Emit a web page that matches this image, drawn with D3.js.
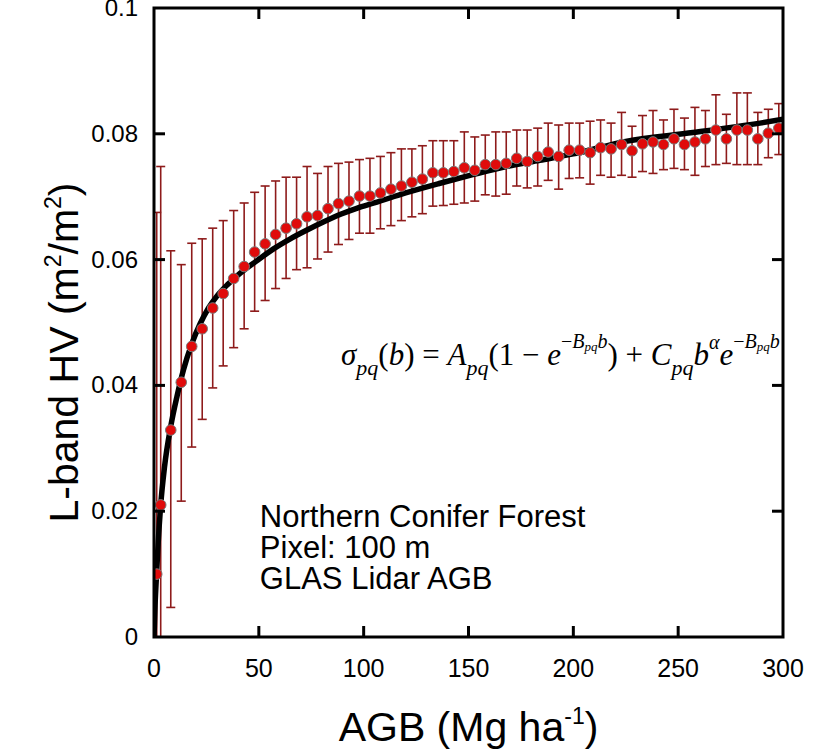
<!DOCTYPE html>
<html>
<head>
<meta charset="utf-8">
<script src="https://cdn.jsdelivr.net/npm/d3@7"></script>
<style>
  body { margin: 0; background: #fff; }
  svg { display: block; }
</style>
</head>
<body>
<div id="chart"></div>
<script>
// binned AGB (Mg/ha) and L-band HV mean with upper / lower error bar ends
var agb = [1.3, 3.2, 8, 13, 18, 23, 28, 33, 38, 43, 48, 53, 58, 63, 68, 73, 78, 83, 88, 93,
  98, 103, 108, 113, 118, 123, 128, 133, 138, 143, 148, 153, 158, 163, 168, 173, 178, 183, 188, 193,
  198, 203, 208, 213, 218, 223, 228, 233, 238, 243, 248, 253, 258, 263, 268, 273, 278, 283, 288, 293, 298];
var hvMean = [0.0100, 0.0210, 0.0329, 0.0405, 0.0462, 0.0490, 0.0523, 0.0546, 0.0570, 0.0589,
  0.0612, 0.0625, 0.0640, 0.0650, 0.0657, 0.0668, 0.0670, 0.0681, 0.0689, 0.0693,
  0.0701, 0.0701, 0.0706, 0.0712, 0.0717, 0.0723, 0.0728, 0.0738, 0.0738, 0.0740,
  0.0746, 0.0742, 0.0751, 0.0751, 0.0753, 0.0761, 0.0756, 0.0764, 0.0771, 0.0764,
  0.0774, 0.0774, 0.0770, 0.0778, 0.0776, 0.0783, 0.0773, 0.0784, 0.0787, 0.0783,
  0.0792, 0.0783, 0.0787, 0.0792, 0.0806, 0.0792, 0.0806, 0.0806, 0.0792, 0.0801, 0.0809];
var hvUpper = [0.0675, 0.0748, 0.0614, 0.0592, 0.0626, 0.0633, 0.0650, 0.0662, 0.0678, 0.0690,
  0.0707, 0.0717, 0.0725, 0.0731, 0.0731, 0.0748, 0.0737, 0.0748, 0.0753, 0.0755,
  0.0759, 0.0761, 0.0764, 0.0770, 0.0776, 0.0776, 0.0781, 0.0789, 0.0789, 0.0789,
  0.0803, 0.0795, 0.0798, 0.0803, 0.0803, 0.0806, 0.0806, 0.0809, 0.0817, 0.0814,
  0.0817, 0.0817, 0.0820, 0.0822, 0.0817, 0.0834, 0.0812, 0.0829, 0.0837, 0.0822,
  0.0839, 0.0825, 0.0842, 0.0837, 0.0862, 0.0831, 0.0865, 0.0865, 0.0834, 0.0839, 0.0848];
var hvLower = [-0.0200, -0.0300, 0.0047, 0.0216, 0.0302, 0.0346, 0.0396, 0.0431, 0.0460, 0.0490,
  0.0518, 0.0535, 0.0554, 0.0570, 0.0584, 0.0587, 0.0601, 0.0612, 0.0624, 0.0632,
  0.0642, 0.0642, 0.0649, 0.0654, 0.0662, 0.0668, 0.0673, 0.0685, 0.0686, 0.0688,
  0.0690, 0.0693, 0.0703, 0.0701, 0.0704, 0.0717, 0.0714, 0.0717, 0.0726, 0.0712,
  0.0729, 0.0730, 0.0720, 0.0734, 0.0731, 0.0734, 0.0731, 0.0740, 0.0737, 0.0743,
  0.0745, 0.0743, 0.0734, 0.0748, 0.0751, 0.0753, 0.0751, 0.0751, 0.0751, 0.0762, 0.0767];

// fitted model curve
var fitAgb = [0, 0.5, 1.3, 2, 3.2, 5, 8, 11, 14, 18, 22, 26, 30, 35, 41, 49, 57, 65, 73, 81, 89, 97,
  105, 120, 136, 152, 168, 184, 200, 225, 257, 289, 300];
var fitHv = [0, 0.0050, 0.0105, 0.0150, 0.0210, 0.0270, 0.0335, 0.0383, 0.0424, 0.0466, 0.0498,
  0.0523, 0.0542, 0.0560, 0.0578, 0.0598, 0.0617, 0.0633, 0.0647, 0.0660, 0.0672, 0.0682,
  0.0690, 0.0706, 0.0721, 0.0735, 0.0748, 0.0758, 0.0768, 0.0788, 0.0802, 0.0817, 0.0823];

var xTicks = [0, 50, 100, 150, 200, 250, 300];
var yTicks = [0, 0.02, 0.04, 0.06, 0.08, 0.1];
var textLines = ["Northern Conifer Forest", "Pixel: 100 m", "GLAS Lidar AGB"];

var margin = {top: 8, right: 42, bottom: 114, left: 154},
    width = 825 - margin.left - margin.right,
    height = 751 - margin.top - margin.bottom;

var svg = d3.select("#chart")
  .append("svg")
    .attr("width", 825)
    .attr("height", 751)
  .append("g")
    .attr("transform", "translate(" + margin.left + "," + margin.top + ")");

var x = d3.scaleLinear().domain([0, 300]).range([0, width]);
var y = d3.scaleLinear().domain([0, 0.1]).range([height, 0]);

var points = agb.map(function(d, i) {
  return {x: d, m: hvMean[i], hi: hvUpper[i], lo: hvLower[i]};
});

// clip to the frame
svg.append("clipPath").attr("id", "frame")
  .append("rect").attr("width", width).attr("height", height);

var plot = svg.append("g").attr("clip-path", "url(#frame)");

// error bars
var bars = plot.append("g")
  .attr("stroke", "#8e1b1b")
  .attr("stroke-width", 1.6);
bars.selectAll("line.v")
  .data(points).enter().append("line")
    .attr("class", "v")
    .attr("x1", function(d) { return x(d.x); })
    .attr("x2", function(d) { return x(d.x); })
    .attr("y1", function(d) { return y(d.hi); })
    .attr("y2", function(d) { return y(d.lo); });
bars.selectAll("line.hi")
  .data(points).enter().append("line")
    .attr("class", "hi")
    .attr("x1", function(d) { return x(d.x) - 4.5; })
    .attr("x2", function(d) { return x(d.x) + 4.5; })
    .attr("y1", function(d) { return y(d.hi); })
    .attr("y2", function(d) { return y(d.hi); });
bars.selectAll("line.lo")
  .data(points.filter(function(d) { return d.lo > 0; })).enter().append("line")
    .attr("class", "lo")
    .attr("x1", function(d) { return x(d.x) - 4.5; })
    .attr("x2", function(d) { return x(d.x) + 4.5; })
    .attr("y1", function(d) { return y(d.lo); })
    .attr("y2", function(d) { return y(d.lo); });

// fitted curve
var fit = fitAgb.map(function(d, i) { return [d, fitHv[i]]; });
plot.append("path")
  .datum(fit)
  .attr("fill", "none")
  .attr("stroke", "#000")
  .attr("stroke-width", 5.5)
  .attr("d", d3.line()
    .x(function(d) { return x(d[0]); })
    .y(function(d) { return y(d[1]); })
    .curve(d3.curveMonotoneX));

// means
plot.append("g").selectAll("circle")
  .data(points).enter().append("circle")
    .attr("cx", function(d) { return x(d.x); })
    .attr("cy", function(d) { return y(d.m); })
    .attr("r", 5.3)
    .attr("fill", "#e00b0b")
    .attr("stroke", "#7a7a7a")
    .attr("stroke-width", 1);

// frame and inward ticks on all sides
svg.append("rect")
  .attr("width", width).attr("height", height)
  .attr("fill", "none").attr("stroke", "#000").attr("stroke-width", 3);

var tickLen = 11;
svg.append("g").selectAll("line")
  .data(xTicks.slice(1, -1)).enter().append("g")
  .each(function(d) {
    var g = d3.select(this);
    g.append("line").attr("x1", x(d)).attr("x2", x(d)).attr("y1", height).attr("y2", height - tickLen);
    g.append("line").attr("x1", x(d)).attr("x2", x(d)).attr("y1", 0).attr("y2", tickLen);
  })
  .attr("stroke", "#000").attr("stroke-width", 3);
svg.append("g").selectAll("g")
  .data(yTicks.slice(1, -1)).enter().append("g")
  .each(function(d) {
    var g = d3.select(this);
    g.append("line").attr("x1", 0).attr("x2", tickLen).attr("y1", y(d)).attr("y2", y(d));
    g.append("line").attr("x1", width).attr("x2", width - tickLen).attr("y1", y(d)).attr("y2", y(d));
  })
  .attr("stroke", "#000").attr("stroke-width", 3);

// tick labels
var font = "'Liberation Sans', Arial, Helvetica, sans-serif";
svg.append("g").selectAll("text")
  .data(xTicks).enter().append("text")
    .attr("x", function(d) { return x(d); })
    .attr("y", height + 40)
    .attr("text-anchor", "middle")
    .style("font-family", font).style("font-size", "25px")
    .text(function(d) { return d; });
svg.append("g").selectAll("text")
  .data(yTicks).enter().append("text")
    .attr("x", -16)
    .attr("y", function(d) { return y(d) + 8; })
    .attr("text-anchor", "end")
    .style("font-family", font).style("font-size", "24px")
    .text(function(d) { return d === 0 ? "0" : d3.format("~g")(d); });

// axis titles
var xt = svg.append("text")
  .attr("x", width / 2 + 0)
  .attr("y", height + 104)
  .attr("text-anchor", "middle")
  .style("font-family", font).style("font-size", "41px");
xt.append("tspan").text("AGB (Mg ha");
xt.append("tspan").attr("dy", -17).style("font-size", "23px").text("-1");
xt.append("tspan").attr("dy", 17).text(")");

var yt = svg.append("text")
  .attr("transform", "translate(-76," + (y(0.05) + 30) + ") rotate(-90)")
  .attr("text-anchor", "middle")
  .style("font-family", font).style("font-size", "41px");
yt.append("tspan").text("L-band HV (m");
yt.append("tspan").attr("dy", -17).style("font-size", "23px").text("2");
yt.append("tspan").attr("dy", 17).text("/m");
yt.append("tspan").attr("dy", -17).style("font-size", "23px").text("2");
yt.append("tspan").attr("dy", 17).text(")");

// annotation
svg.append("g").selectAll("text")
  .data(textLines).enter().append("text")
    .attr("x", x(50) + 1)
    .attr("y", function(d, i) { return 519 + i * 31; })
    .style("font-family", font).style("font-size", "31px")
    .text(function(d) { return d; });

// model equation
var eq = [
  ["σ", 31, 0, true], ["pq", 22, 10, true], ["(", 31, 0, false], ["b", 31, 0, true],
  [") = ", 31, 0, false], ["A", 31, 0, true], ["pq", 22, 10, true], ["(1 − ", 31, 0, false],
  ["e", 31, 0, true], ["−", 20, -17, false], ["B", 20, -17, true], ["pq", 13, -14, true],
  ["b", 20, -17, true], [") + ", 31, 0, false], ["C", 31, 0, true], ["pq", 22, 10, true],
  ["b", 31, 0, true], ["α", 20, -16, true], ["e", 31, 0, true], ["−", 20, -17, false],
  ["B", 20, -17, true], ["pq", 13, -14, true], ["b", 20, -17, true]
];
var eqText = svg.append("text")
  .attr("x", 341 - margin.left)
  .attr("y", 365 - margin.top)
  .style("font-family", "'Liberation Serif', 'Times New Roman', serif")
  .attr("xml:space", "preserve");
var lvl = 0;
eq.forEach(function(p) {
  eqText.append("tspan")
    .attr("dy", p[2] - lvl)
    .style("font-size", p[1] + "px")
    .style("font-style", p[3] ? "italic" : "normal")
    .text(p[0]);
  lvl = p[2];
});
</script>
</body>
</html>
